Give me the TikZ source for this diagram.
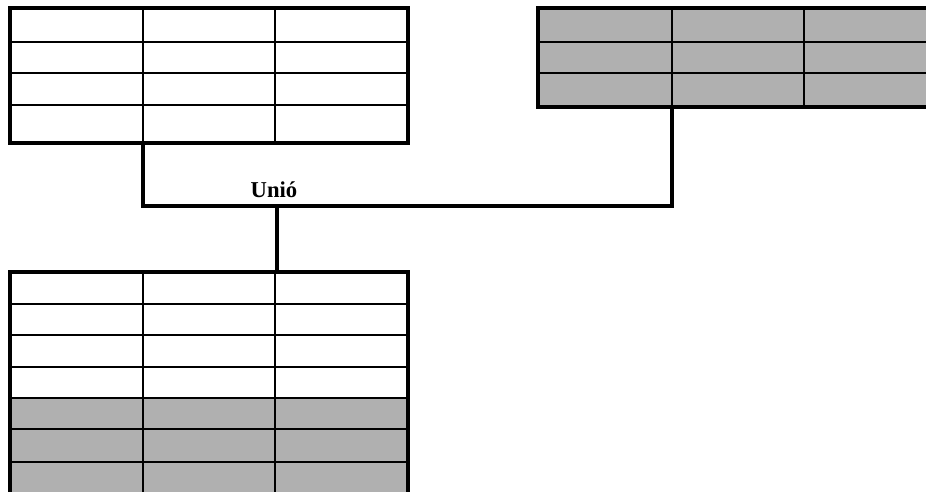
\documentclass[tikz,border=0pt]{standalone}
\usepackage{fontspec}
\setmainfont{Liberation Serif}
\definecolor{gris}{gray}{0.69}
\begin{document}
\begin{tikzpicture}[x=0.75pt,y=-0.75pt,line join=miter,
		vora/.style={line width=3.3pt},
		reixa/.style={line width=1.4pt},
		enllac/.style={line width=2.6pt,line cap=rect}]
	\useasboundingbox (0,0) rectangle (926,492);
	% primera taula, quatre files
	\foreach \y in{42,73,105}{\draw[reixa] (10,\y) -- (408,\y);}
	\foreach \x in{143,275}{\draw[reixa] (\x,8) -- (\x,143);}
	\draw[vora] (10,8) rectangle (408,143);
	% segona taula, tres files grises
	\fill[gris] (538,8) rectangle (936,107);
	\foreach \y in{42,73}{\draw[reixa] (538,\y) -- (936,\y);}
	\foreach \x in{672,804}{\draw[reixa] (\x,8) -- (\x,107);}
	\draw[vora] (538,8) rectangle (936,107);
	% resultat: les files de les dues taules
	\fill[gris] (10,398) rectangle (408,496);
	\foreach \y in{304,335,367,398,429,462}{\draw[reixa] (10,\y) -- (408,\y);}
	\foreach \x in{143,275}{\draw[reixa] (\x,272) -- (\x,496);}
	\draw[vora] (10,272) rectangle (408,496);
	% unio
	\coordinate (a) at (143,143);
	\coordinate (b) at (672,107);
	\coordinate (u) at (277,206);
	\coordinate (c) at (277,272);
	\draw[enllac] (a) |- (u) -| (b);
	\draw[enllac] (u) -- (c);
	\node[anchor=base,inner sep=0pt,font=\bfseries\fontsize{17}{17}\selectfont] (unio) at (274,197) {Unió};
\end{tikzpicture}
\end{document}
